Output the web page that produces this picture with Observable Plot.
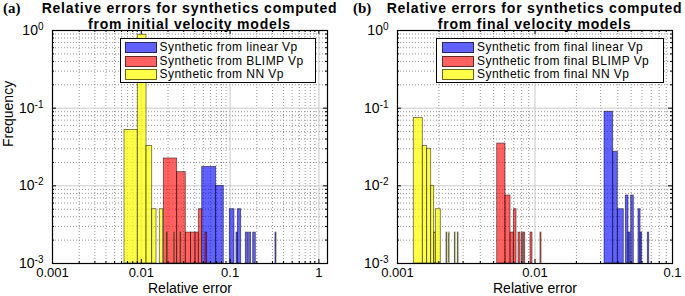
<!DOCTYPE html>
<html><head><meta charset="utf-8">
<script src="https://cdn.jsdelivr.net/npm/d3@7"></script>
<script src="https://cdn.jsdelivr.net/npm/@observablehq/plot@0.6"></script>
<style>
body{margin:0;background:#fff;font-family:"Liberation Sans",Arial,sans-serif;}
#fig{position:relative;width:685px;height:296px;overflow:hidden;background:#fff;}
.abs{position:absolute;}
.title{font-weight:bold;font-size:14px;letter-spacing:0.8px;text-align:center;line-height:16px;white-space:nowrap;color:#000;}
.tag{font-family:"Liberation Serif","Times New Roman",serif;font-weight:bold;font-size:15px;line-height:15px;}
.legend{border:1.5px solid #000;background:#fff;box-sizing:border-box;}
.item{position:absolute;font-size:12px;letter-spacing:0.45px;line-height:13px;white-space:nowrap;}
.patch{position:absolute;box-sizing:border-box;border:1px solid rgba(0,0,0,0.6);}
</style></head><body><div id="fig"></div>
<script>
// ---- text ----
const titleA = ["Relative errors for synthetics computed", "from initial velocity models"];
const titleB = ["Relative errors for synthetics computed", "from final velocity models"];
const seriesA = ["Synthetic from linear Vp", "Synthetic from BLIMP Vp", "Synthetic from NN Vp"];
const seriesB = ["Synthetic from final linear Vp", "Synthetic from final BLIMP Vp", "Synthetic from final NN Vp"];
const xLabel = "Relative error";
const yLabel = "Frequency";
// ---- axes ----
const xDomainA = [0.001, 1.25];
const xDomainB = [0.001, 0.1];
const yDomain = [0.001, 1];
const xTicksA = [0.001, 0.01, 0.1, 1];
const xTicksB = [0.001, 0.01, 0.1];
const yTicks = [0.001, 0.01, 0.1, 1];
// ---- bars: [lower edge, upper edge, frequency] ----
const aLinear = [[0.0485,0.0697,0.0175],[0.0697,0.0849,0.01],[0.0992,0.1121,0.005],[0.118,0.1221,0.0025],
  [0.1221,0.1334,0.005],[0.1502,0.1598,0.0025],[0.1639,0.1727,0.0025],[0.182,0.1947,0.0025],[0.3243,0.333,0.0025]];
const aBlimp = [[0.01792,0.02536,0.0225],[0.02536,0.0317,0.015],[0.0317,0.0363,0.0025],[0.0363,0.0408,0.0025],
  [0.0408,0.0444,0.0025],[0.0444,0.0485,0.005],[0.0528,0.0552,0.0025]];
const aNN = [[0.00647,0.00913,0.0525],[0.00913,0.01145,0.88],[0.01145,0.01327,0.0325],[0.01327,0.01484,0.005],
  [0.01616,0.01765,0.005],[0.0195,0.0198,0.0025],[0.0235,0.0238,0.0025],[0.0277,0.0281,0.0025]];
const bLinear = [[0.03203,0.03704,0.09],[0.03704,0.04001,0.0275],[0.04001,0.04423,0.005],[0.04575,0.04786,0.0075],
  [0.04786,0.04949,0.0025],[0.05007,0.05231,0.0075],[0.05658,0.05853,0.005],[0.05853,0.06021,0.0025],[0.06614,0.06771,0.0025]];
const bBlimp = [[0.005311,0.006103,0.035],[0.006103,0.006636,0.0075],[0.006636,0.007014,0.0025],[0.007014,0.007337,0.005],
  [0.007586,0.007845,0.0025],[0.008017,0.008179,0.0025],[0.008318,0.00849,0.0025],[0.009276,0.00959,0.0025],[0.01096,0.01115,0.0025]];
const bNN = [[0.001314,0.001528,0.075],[0.001528,0.001644,0.0325],[0.001644,0.001758,0.03],[0.001758,0.001849,0.01],
  [0.001849,0.001899,0.0025],[0.001899,0.002065,0.005],[0.002272,0.002302,0.0025],[0.002361,0.002393,0.0025],
  [0.002611,0.002641,0.0025],[0.002745,0.002778,0.0025]];
const colors = ["#0000ff", "#ff0000", "#ffff00"];
const opac = [0.62, 0.62, 0.72];

const H = 296, MT = 30, MB = 33;
function minors(dom) {
  const out = [];
  for (let k = Math.floor(Math.log10(dom[0])); k <= Math.ceil(Math.log10(dom[1])); k++)
    for (let m = 2; m <= 9; m++) { const v = m * Math.pow(10, k); if (v > dom[0] && v < dom[1]) out.push(v); }
  return out;
}
function panel({series, xDomain, xTicks, width, ml, mr, ylab}) {
  const fw = width - ml - mr, fh = H - MT - MB;
  const mx = minors(xDomain), my = minors(yDomain);
  const barMarks = series.map((s, i) => Plot.rect(s.map(d => ({lo: d[0], hi: d[1], f: d[2]})), {
    x1: "lo", x2: "hi", y1: () => yDomain[0], y2: "f",
    fill: colors[i], fillOpacity: opac[i], stroke: "black", strokeOpacity: 0.6, strokeWidth: 0.8
  }));
  const svg = Plot.plot({
    width, height: H, marginLeft: ml, marginRight: mr, marginTop: MT, marginBottom: MB,
    style: {fontFamily: "'Liberation Sans', Arial, sans-serif", fontSize: "14px", background: "transparent", overflow: "visible", color: "black"},
    x: {type: "log", domain: xDomain, label: null},
    y: {type: "log", domain: yDomain, label: null},
    marks: [
      Plot.gridX(mx, {stroke: "#8a8a8a", strokeOpacity: 0.9, strokeDasharray: "1,2", strokeWidth: 1}),
      Plot.gridY(my, {stroke: "#8a8a8a", strokeOpacity: 0.9, strokeDasharray: "1,2", strokeWidth: 1}),
      Plot.gridX(xTicks, {stroke: "#c8c8c8", strokeOpacity: 1, strokeWidth: 1}),
      Plot.gridY(yTicks, {stroke: "#c8c8c8", strokeOpacity: 1, strokeWidth: 1}),
      ...barMarks,
      Plot.ruleX(xTicks, {stroke: "black", insetTop: fh - 4}),
      Plot.ruleX(xTicks, {stroke: "black", insetBottom: fh - 4}),
      Plot.ruleX(mx, {stroke: "black", insetTop: fh - 2}),
      Plot.ruleX(mx, {stroke: "black", insetBottom: fh - 2}),
      Plot.ruleY(yTicks, {stroke: "black", insetRight: fw - 4}),
      Plot.ruleY(yTicks, {stroke: "black", insetLeft: fw - 4}),
      Plot.ruleY(my, {stroke: "black", insetRight: fw - 2}),
      Plot.ruleY(my, {stroke: "black", insetLeft: fw - 2}),
      Plot.frame({stroke: "black", strokeWidth: 1.2}),
      Plot.axisX(xTicks, {anchor: "bottom", tickSize: 0, tickPadding: 4, label: null, tickFormat: d => String(d), fontSize: 13}),
      Plot.axisY(yTicks, {anchor: "left", tickSize: 0, tickPadding: 9, label: null, tickFormat: d => "10^" + Math.round(Math.log10(d)), fontSize: 14}),
      Plot.text([xLabel], {frameAnchor: "bottom", dy: 29.5, fontSize: 14}),
      ...(ylab ? [Plot.text([yLabel], {frameAnchor: "left", rotate: -90, dx: -44, fontSize: 14})] : [])
    ]
  });
  d3.select(svg).selectAll('g[aria-label="y-axis tick label"] text').each(function () {
    const [b, e] = this.textContent.split("^");
    const s = d3.select(this); s.text(b);
    s.append("tspan").attr("dy", "-0.5em").attr("font-size", "10px").text(e);
  });
  return svg;
}
const fig = document.getElementById("fig");
function place(el, left, top) { el.style.position = "absolute"; el.style.left = left + "px"; el.style.top = top + "px"; fig.appendChild(el); }
place(panel({series: [aLinear, aBlimp, aNN], xDomain: xDomainA, xTicks: xTicksA, width: 340, ml: 52, mr: 13, ylab: true}), 0, 0);
place(panel({series: [bLinear, bBlimp, bNN], xDomain: xDomainB, xTicks: xTicksB, width: 345, ml: 57, mr: 13, ylab: false}), 340, 0);

function div(cls, text) { const d = document.createElement("div"); d.className = cls; if (text != null) d.textContent = text; return d; }
function title(lines, cx) {
  const d = div("title abs");
  lines.forEach((t, i) => { if (i) d.appendChild(document.createElement("br")); d.appendChild(document.createTextNode(t)); });
  d.style.width = "400px"; place(d, cx - 200, -0.5);
}
title(titleA, 189.5);
title(titleB, 534.5);
place(div("tag abs", "(a)"), 3, 1);
place(div("tag abs", "(b)"), 353, 1);
function legend(labels, left, width, patchLeft, textLeft) {
  const box = div("legend abs"); box.style.width = width + "px"; box.style.height = "45px";
  place(box, left, 38);
  labels.forEach((t, i) => {
    const p = div("patch"); p.style.left = patchLeft + "px"; p.style.top = (3 + i * 13.5) + "px";
    p.style.width = "32px"; p.style.height = "11px";
    p.style.background = d3.color(colors[i]).copy({opacity: opac[i]}).formatRgb();
    box.appendChild(p);
    const tx = div("item", t); tx.style.left = textLeft + "px"; tx.style.top = (2 + i * 13.5) + "px";
    box.appendChild(tx);
  });
}
legend(seriesA, 120, 196, 3.5, 38.5);
legend(seriesB, 436, 228, 4.5, 40);
</script></body></html>
